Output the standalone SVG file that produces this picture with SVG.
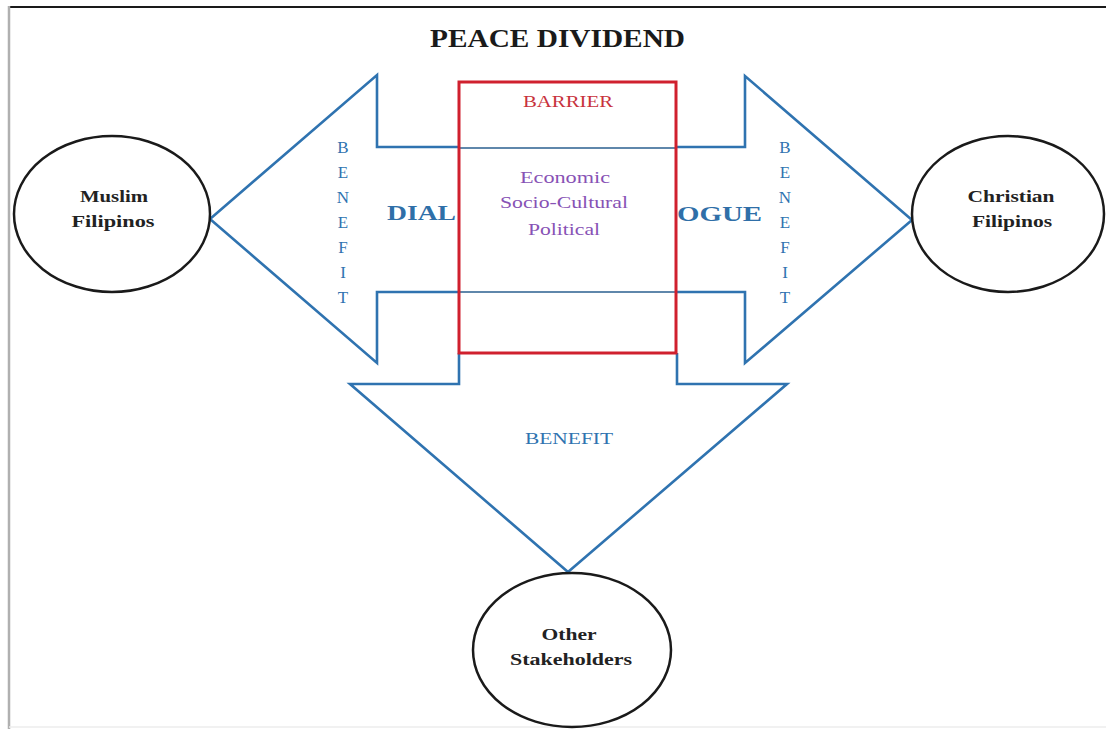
<svg xmlns="http://www.w3.org/2000/svg" width="1106" height="729" viewBox="0 0 1106 729">
<style>
.serif{font-family:"Liberation Serif","Times New Roman",serif}
.node{fill:#fff;stroke:#1a1a1a;stroke-width:2.5}
.nodetxt{font-family:"Liberation Serif","Times New Roman",serif;font-weight:bold;font-size:16px;fill:#222;text-anchor:middle}
.arrow{fill:none;stroke:#2f73b0;stroke-width:2.6;stroke-linejoin:miter}
.inner{stroke:#2a5f8f;stroke-width:1.5}
.blue{fill:#2f6fa8}
.vert{font-family:"Liberation Serif","Times New Roman",serif;font-size:17px;fill:#2f73b0;text-anchor:middle}
.purple{font-family:"Liberation Serif","Times New Roman",serif;font-size:16px;fill:#8752b5;text-anchor:middle}
</style>
<rect x="0" y="0" width="1106" height="729" fill="#fff"/>
<g id="frame">
<line x1="9" y1="7" x2="1106" y2="7" stroke="#1a1a1a" stroke-width="2"/>
<line x1="9" y1="6" x2="9" y2="729" stroke="#b0b0b0" stroke-width="2.5"/>
<line x1="9" y1="727" x2="1106" y2="727" stroke="#ececec" stroke-width="1.5"/>
</g>
<text id="title" class="serif" x="430" y="47" font-size="26" font-weight="bold" fill="#1a1a1a" textLength="255" lengthAdjust="spacingAndGlyphs">PEACE DIVIDEND</text>
<g id="connectors">
<polyline class="arrow" points="459,147 377,147 377,75 210,219 377,363 377,292 459,292"/>
<polyline class="arrow" points="676,147 745,147 745,76 912,220 745,363 745,292 676,292"/>
<polyline class="arrow" points="459,353 459,384 350,384 568,572 787,384 677,384 677,353"/>
<line class="inner" x1="459" y1="148" x2="676" y2="148"/>
<line class="inner" x1="459" y1="292" x2="676" y2="292"/>
<text class="vert" x="343" y="153"><tspan x="343">B</tspan><tspan x="343" dy="25">E</tspan><tspan x="343" dy="25">N</tspan><tspan x="343" dy="25">E</tspan><tspan x="343" dy="25">F</tspan><tspan x="343" dy="25">I</tspan><tspan x="343" dy="25">T</tspan></text>
<text class="vert" x="785" y="153"><tspan x="785">B</tspan><tspan x="785" dy="25">E</tspan><tspan x="785" dy="25">N</tspan><tspan x="785" dy="25">E</tspan><tspan x="785" dy="25">F</tspan><tspan x="785" dy="25">I</tspan><tspan x="785" dy="25">T</tspan></text>
<text class="serif blue" x="387" y="220" font-size="22" font-weight="bold" textLength="69" lengthAdjust="spacingAndGlyphs">DIAL</text>
<text class="serif blue" x="677" y="221" font-size="22" font-weight="bold" textLength="85" lengthAdjust="spacingAndGlyphs">OGUE</text>
<text class="serif" x="525" y="444" font-size="16" fill="#2f73b0" textLength="88" lengthAdjust="spacingAndGlyphs">BENEFIT</text>
</g>
<g id="barrier">
<rect x="459" y="82" width="217" height="271" fill="none" stroke="#d0202e" stroke-width="3"/>
<text class="serif" x="523" y="107" font-size="16" fill="#c8323c" textLength="90" lengthAdjust="spacingAndGlyphs">BARRIER</text>
<text class="purple" x="565" y="183" textLength="90" lengthAdjust="spacingAndGlyphs">Economic</text>
<text class="purple" x="564" y="208" textLength="128" lengthAdjust="spacingAndGlyphs">Socio-Cultural</text>
<text class="purple" x="564" y="235" textLength="72" lengthAdjust="spacingAndGlyphs">Political</text>
</g>
<g id="muslim">
<ellipse class="node" cx="112" cy="214" rx="98" ry="78"/>
<text class="nodetxt" x="114" y="202" textLength="68" lengthAdjust="spacingAndGlyphs">Muslim</text>
<text class="nodetxt" x="113" y="227" textLength="83" lengthAdjust="spacingAndGlyphs">Filipinos</text>
</g>
<g id="christian">
<ellipse class="node" cx="1008" cy="214" rx="96" ry="78"/>
<text class="nodetxt" x="1011" y="202" textLength="87" lengthAdjust="spacingAndGlyphs">Christian</text>
<text class="nodetxt" x="1012" y="227" textLength="80" lengthAdjust="spacingAndGlyphs">Filipinos</text>
</g>
<g id="stakeholders">
<ellipse class="node" cx="572" cy="650" rx="99" ry="77"/>
<text class="nodetxt" x="569" y="640" textLength="55" lengthAdjust="spacingAndGlyphs">Other</text>
<text class="nodetxt" x="571" y="665" textLength="122" lengthAdjust="spacingAndGlyphs">Stakeholders</text>
</g>
</svg>
